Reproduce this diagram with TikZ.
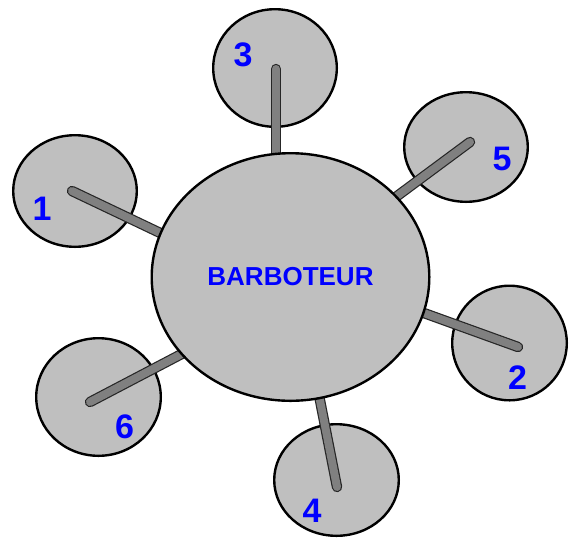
\documentclass[tikz,border=0pt]{standalone}
\usepackage{fontspec}
\setmainfont{Liberation Sans}
\usetikzlibrary{shapes.geometric}

\begin{document}
\begin{tikzpicture}[x=1pt,y=-1pt,
	bulle/.style={ellipse,draw,line width=2.4pt,fill=black!25,inner sep=0pt},
	tube/.style={draw=black!85,line width=1.2pt,double=gray,double distance=8pt,line cap=round},
	num/.style={text=blue,inner sep=0pt,font=\fontsize{34}{34}\selectfont\bfseries}]
	\useasboundingbox (0,0) rectangle (569,539);
	% les six bulles
	\node[bulle,minimum width=123.6pt,minimum height=111.6pt] (c1) at (75,191) {};
	\node[bulle,minimum width=114.6pt,minimum height=114.6pt] (c2) at (509.5,343) {};
	\node[bulle,minimum width=123.6pt,minimum height=117.6pt] (c3) at (275,68) {};
	\node[bulle,minimum width=124.6pt,minimum height=111.6pt] (c4) at (336.5,480) {};
	\node[bulle,minimum width=123.6pt,minimum height=109.6pt] (c5) at (466,147) {};
	\node[bulle,minimum width=124.6pt,minimum height=117.6pt] (c6) at (98.5,397) {};
	% les tubes
	\coordinate (t1) at (72,191);  \coordinate (b1) at (175,240);
	\coordinate (t2) at (518,347); \coordinate (b2) at (410,308);
	\coordinate (t3) at (276,69);  \coordinate (b3) at (276,170);
	\coordinate (t4) at (337,487); \coordinate (b4) at (316,380);
	\coordinate (t5) at (470,142); \coordinate (b5) at (385,205);
	\coordinate (t6) at (90,402);  \coordinate (b6) at (195,347);
	\draw[tube] (t1) -- (b1);
	\draw[tube] (t2) -- (b2);
	\draw[tube] (t3) -- (b3);
	\draw[tube] (t4) -- (b4);
	\draw[tube] (t5) -- (b5);
	\draw[tube] (t6) -- (b6);
	% la cuve
	\node[bulle,minimum width=277.6pt,minimum height=247.6pt] (cuve) at (290.5,277) {};
	\node[text=blue,inner sep=0pt,font=\fontsize{26}{26}\selectfont\bfseries] (nom) at (cuve) {BARBOTEUR};
	\node[num] (n1) at (42,208.5) {1};
	\node[num] (n2) at (517.5,378) {2};
	\node[num] (n3) at (243,55) {3};
	\node[num] (n4) at (312,511) {4};
	\node[num] (n5) at (502,159) {5};
	\node[num] (n6) at (124.5,426.5) {6};
\end{tikzpicture}
\end{document}
